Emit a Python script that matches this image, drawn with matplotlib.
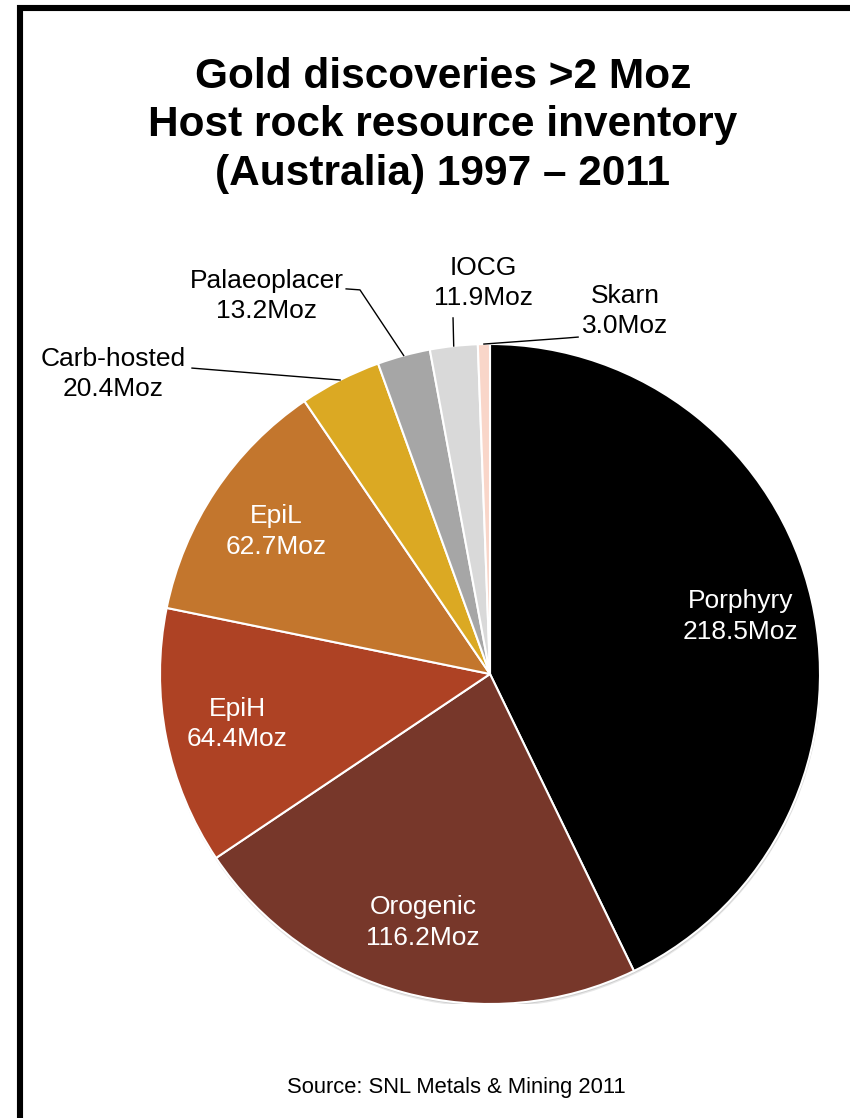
import numpy as np
import matplotlib
matplotlib.use('Agg')
import matplotlib.pyplot as plt
from matplotlib.patches import Rectangle, Circle

plt.rcParams['font.family'] = ['Liberation Sans', 'DejaVu Sans']

# data
categories = ['Porphyry', 'Orogenic', 'EpiH', 'EpiL', 'Carb-hosted',
              'Palaeoplacer', 'IOCG', 'Skarn']
values = [218.5, 116.2, 64.4, 62.7, 20.4, 13.2, 11.9, 3.0]
colors = ['#000000', '#77372a', '#ae4224', '#c3762d', '#dba923',
          '#a6a6a6', '#d9d9d9', '#f9d6c9']
inside = ['Porphyry', 'Orogenic', 'EpiH', 'EpiL']

# outside labels: text centre, leader path start (+ optional elbow)
outside_layout = {
    'Carb-hosted': ((-1.142, 0.909), [(-0.903, 0.927)]),
    'Palaeoplacer': ((-0.676, 1.145), [(-0.436, 1.167), (-0.394, 1.164)]),
    'IOCG': ((-0.021, 1.185), [(-0.112, 1.079)]),
    'Skarn': ((0.409, 1.100), [(0.267, 1.021), (0.230, 1.018)]),
}

W, H = 850, 1118
fig = plt.figure(figsize=(W / 100, H / 100), dpi=100)
fig.patch.set_facecolor('white')

# outer frame (runs off the right and bottom edges)
fig.patches.append(Rectangle((20 / W, -0.05), 1.2, 1 - 8 / H + 0.05,
                             transform=fig.transFigure, fill=False,
                             edgecolor='black', linewidth=4.4))

fig.text(0.521, 0.888, 'Gold discoveries >2 Moz\nHost rock resource inventory\n(Australia) 1997 \u2013 2011',
         ha='center', va='center', fontsize=30.5, fontweight='bold',
         linespacing=1.27)

cx, cy, r = 490, 674, 330
ax = fig.add_axes([(cx - r) / W, (H - cy - r) / H, 2 * r / W, 2 * r / H])
# soft drop shadow
for off, a in [(0.010, 0.25), (0.006, 0.35)]:
    ax.add_patch(Circle((0.002, -off), 1.0, color='#a0a0a0', alpha=a,
                        linewidth=0, zorder=0))
wedges, _ = ax.pie(values, colors=colors, startangle=90, counterclock=False,
                   radius=1.0,
                   wedgeprops=dict(edgecolor='white', linewidth=1.5))
ax.set_xlim(-1, 1)
ax.set_ylim(-1, 1)
ax.set_aspect('auto')
ax.axis('off')

for w, name, val in zip(wedges, categories, values):
    mid = np.deg2rad((w.theta1 + w.theta2) / 2)
    label = f'{name}\n{val:.1f}Moz'
    if name in inside:
        ax.text(0.78 * np.cos(mid), 0.78 * np.sin(mid), label, color='white',
                ha='center', va='center', fontsize=19, linespacing=1.35)
    else:
        (tx, ty), path = outside_layout[name]
        edge = (np.cos(mid), np.sin(mid))
        pts = path + [edge]
        ax.plot([p[0] for p in pts], [p[1] for p in pts], color='black',
                linewidth=1.0, clip_on=False)
        ax.text(tx, ty, label, color='black', ha='center', va='center',
                fontsize=19, linespacing=1.35, clip_on=False)

fig.text(0.537, 0.0277, 'Source: SNL Metals & Mining 2011', ha='center',
         va='center', fontsize=15.8)

fig.savefig('out.png', dpi=100)
